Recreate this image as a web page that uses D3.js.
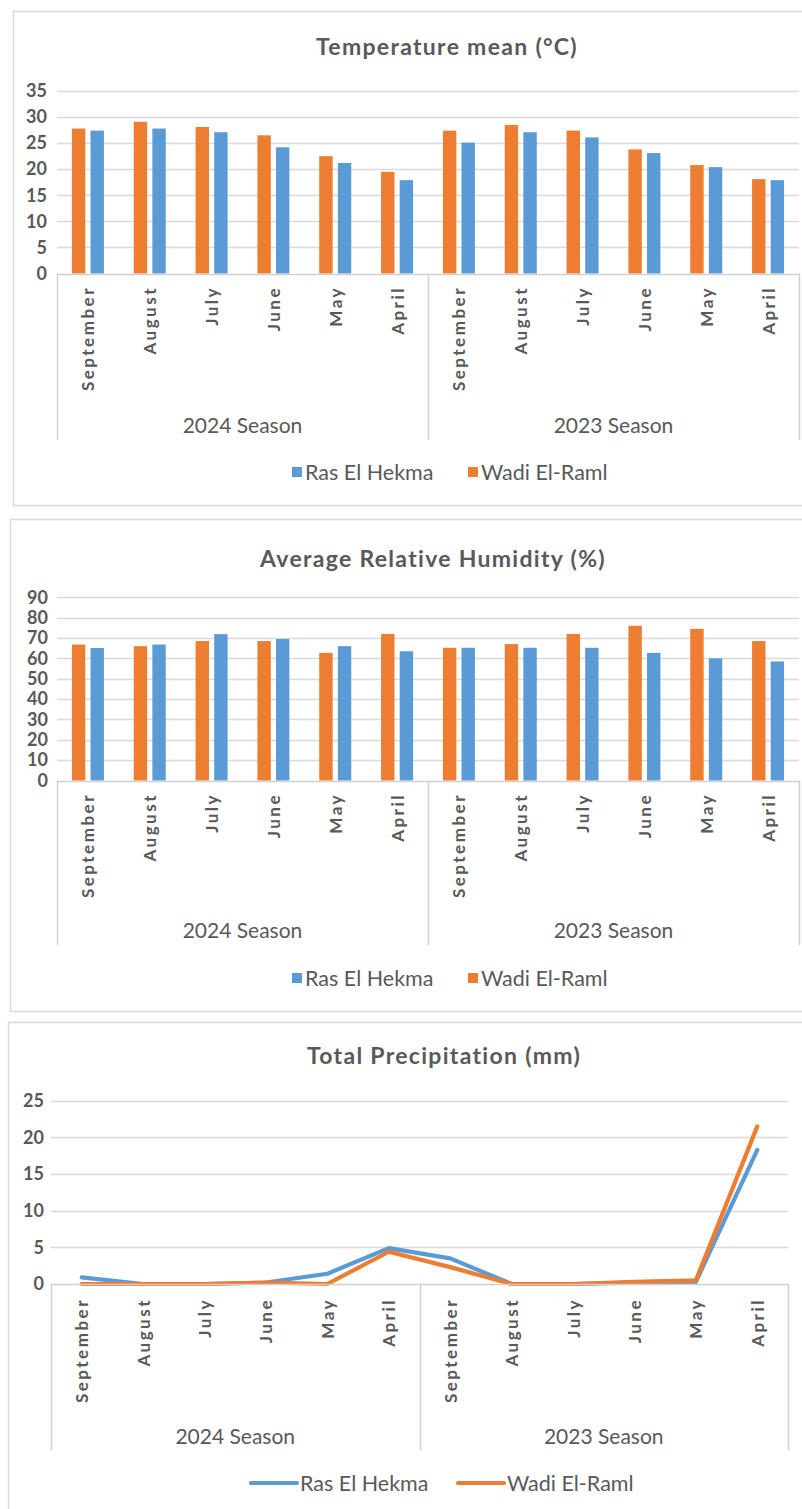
<!DOCTYPE html>
<html>
<head>
<meta charset="utf-8">
<script src="https://cdn.jsdelivr.net/npm/d3@7"></script>
<style>
  html, body { margin: 0; padding: 0; background: #fff; }
  svg { display: block; }
  text { font-family: Lato, "Open Sans", sans-serif; fill: #595959; }
</style>
</head>
<body>
<svg id="chart" width="802" height="1509"></svg>
<script>
// ---- data ----
const months = ["September", "August", "July", "June", "May", "April"];
const seasons = ["2024 Season", "2023 Season"];
const seriesNames = ["Wadi El-Raml", "Ras El Hekma"];

// Temperature mean (°C), 2024 season then 2023 season
const tempWadi = [27.8, 29.1, 28.1, 26.5, 22.5, 19.5, 27.4, 28.5, 27.4, 23.8, 20.8, 18.1];
const tempRas  = [27.4, 27.8, 27.1, 24.2, 21.2, 17.9, 25.1, 27.1, 26.1, 23.1, 20.4, 17.9];

// Average relative humidity (%)
const humWadi = [66.8, 66.0, 68.5, 68.5, 62.7, 72.0, 65.2, 67.0, 72.0, 76.0, 74.5, 68.5];
const humRas  = [65.1, 66.8, 71.9, 69.5, 66.0, 63.5, 65.2, 65.2, 65.2, 62.7, 60.0, 58.5];

// Total precipitation (mm)
const precWadi = [0.0, 0.0, 0.0, 0.2, 0.0, 4.4, 2.3, 0.0, 0.0, 0.3, 0.5, 21.5];
const precRas  = [0.9, 0.0, 0.0, 0.2, 1.4, 4.9, 3.5, 0.0, 0.0, 0.2, 0.3, 18.3];

const tempTicks = [0, 5, 10, 15, 20, 25, 30, 35];
const humTicks  = [0, 10, 20, 30, 40, 50, 60, 70, 80, 90];
const precTicks = [0, 5, 10, 15, 20, 25];

const colors = { "Wadi El-Raml": "#ED7D31", "Ras El Hekma": "#5B9BD5" };
const legendOrder = ["Ras El Hekma", "Wadi El-Raml"];

// 12 category keys: season index + month
const cats = [];
seasons.forEach((s, si) => months.forEach(m => cats.push(si + "|" + m)));

const svg = d3.select("#chart");

function panel(cfg) {
  const g = svg.append("g");

  // panel frame
  g.append("rect")
    .attr("x", cfg.frame[0] + 0.5).attr("y", cfg.frame[1] + 0.5)
    .attr("width", 900).attr("height", cfg.frame[2])
    .attr("fill", "none").attr("stroke", "#d9d9d9").attr("stroke-width", 1.5);

  // title
  g.append("text")
    .attr("x", cfg.titleX).attr("y", cfg.titleY)
    .attr("text-anchor", "middle").attr("dominant-baseline", "central")
    .style("font-size", "23px").style("font-weight", "700").style("letter-spacing", "1.3px")
    .text(cfg.title);

  const x = d3.scaleBand().domain(cats).range([cfg.x0, cfg.x1]).padding(0);
  const y = d3.scaleLinear().domain([0, d3.max(cfg.ticks)]).range([cfg.yZero, cfg.yTop]);

  // gridlines
  g.append("g").selectAll("line").data(cfg.ticks.filter(t => t > 0)).join("line")
    .attr("x1", cfg.x0).attr("x2", cfg.x1)
    .attr("y1", d => Math.round(y(d)) + 0.5).attr("y2", d => Math.round(y(d)) + 0.5)
    .attr("stroke", "#d9d9d9").attr("stroke-width", 1.5);

  // value axis labels
  const yAxis = d3.axisLeft(y).tickValues(cfg.ticks).tickSize(0).tickPadding(0);
  const ya = g.append("g").attr("transform", `translate(${cfg.labelRight},0)`).call(yAxis);
  ya.select(".domain").remove();
  ya.selectAll("text")
    .style("font-family", "Lato, sans-serif").style("font-size", cfg.tickFont + "px")
    .style("font-weight", "700").attr("fill", "#595959");

  // series marks
  if (cfg.type === "bar") {
    const sub = d3.scaleBand().domain(seriesNames).range([0, 32]).paddingInner(0.28);
    const off = x.bandwidth() / 2 - 16;
    seriesNames.forEach((name, si) => {
      const vals = cfg.values[si];
      g.append("g").selectAll("rect").data(cats).join("rect")
        .attr("x", c => x(c) + off + sub(name))
        .attr("width", sub.bandwidth())
        .attr("y", (c, i) => y(vals[i]))
        .attr("height", (c, i) => y(0) - y(vals[i]))
        .attr("fill", colors[name]);
    });
  } else {
    const order = ["Ras El Hekma", "Wadi El-Raml"];
    order.forEach(name => {
      const vals = cfg.values[seriesNames.indexOf(name)];
      const line = d3.line()
        .x((c, i) => x(c) + x.bandwidth() / 2)
        .y((c, i) => y(vals[i]));
      g.append("path").datum(cats)
        .attr("d", line).attr("fill", "none")
        .attr("stroke", colors[name]).attr("stroke-width", 4.2)
        .attr("stroke-linejoin", "round").attr("stroke-linecap", "round");
    });
  }

  // category axis frame
  const axisColor = "#d0d0d0";
  g.append("line")
    .attr("x1", cfg.x0).attr("x2", cfg.x1)
    .attr("y1", Math.round(y(0)) + 0.5).attr("y2", Math.round(y(0)) + 0.5)
    .attr("stroke", axisColor).attr("stroke-width", 1.5);
  const divs = [cfg.x0, x(cats[6]), cfg.x1];
  g.append("g").selectAll("line").data(divs).join("line")
    .attr("x1", d => Math.round(d) + 0.5).attr("x2", d => Math.round(d) + 0.5)
    .attr("y1", y(0)).attr("y2", cfg.boxBottom)
    .attr("stroke", axisColor).attr("stroke-width", 1.5);

  // month labels (rotated)
  g.append("g").selectAll("text").data(cats).join("text")
    .attr("transform", c => `translate(${x(c) + x.bandwidth() / 2},${cfg.monthTop}) rotate(-90)`)
    .attr("text-anchor", "end").attr("dominant-baseline", "central")
    .style("font-size", "17px").style("font-weight", "700").style("letter-spacing", "2.5px")
    .text(c => c.split("|")[1]);

  // season labels
  g.append("g").selectAll("text").data(seasons).join("text")
    .attr("x", (s, i) => (divs[i] + divs[i + 1]) / 2)
    .attr("y", cfg.seasonY)
    .attr("text-anchor", "middle").attr("dominant-baseline", "central")
    .style("font-size", "21px")
    .text(s => s);

  // legend
  const lg = g.append("g");
  legendOrder.forEach((name, i) => {
    const lx = cfg.legendX[i];
    if (cfg.type === "bar") {
      lg.append("rect").attr("x", lx).attr("y", cfg.legendY - 5)
        .attr("width", 10).attr("height", 10).attr("fill", colors[name]);
      lg.append("text").attr("x", lx + 13).attr("y", cfg.legendY)
        .attr("dominant-baseline", "central").style("font-size", "21.5px").text(name);
    } else {
      lg.append("line").attr("x1", lx).attr("x2", lx + 46)
        .attr("y1", cfg.legendY).attr("y2", cfg.legendY)
        .attr("stroke", colors[name]).attr("stroke-width", 4.2).attr("stroke-linecap", "round");
      lg.append("text").attr("x", lx + 49).attr("y", cfg.legendY)
        .attr("dominant-baseline", "central").style("font-size", "21.5px").text(name);
    }
  });
}

panel({
  type: "bar", title: "Temperature mean (°C)",
  frame: [13, 11, 494], titleX: 447, titleY: 46,
  x0: 57, x1: 799, yZero: 273.5, yTop: 91, ticks: tempTicks,
  labelRight: 47, tickFont: 18,
  values: [tempWadi, tempRas],
  boxBottom: 440, monthTop: 286, seasonY: 424,
  legendX: [292, 468], legendY: 472
});

panel({
  type: "bar", title: "Average Relative Humidity (%)",
  frame: [10, 519, 492], titleX: 433, titleY: 558,
  x0: 57, x1: 799, yZero: 780.5, yTop: 597.3, ticks: humTicks,
  labelRight: 48, tickFont: 18,
  values: [humWadi, humRas],
  boxBottom: 945, monthTop: 793, seasonY: 929,
  legendX: [292, 468], legendY: 978
});

panel({
  type: "line", title: "Total Precipitation (mm)",
  frame: [8, 1022, 520], titleX: 444, titleY: 1055,
  x0: 51, x1: 788, yZero: 1284, yTop: 1100.7, ticks: precTicks,
  labelRight: 44, tickFont: 18,
  values: [precWadi, precRas],
  boxBottom: 1450, monthTop: 1298, seasonY: 1435,
  legendX: [251, 458], legendY: 1483
});
</script>
</body>
</html>
